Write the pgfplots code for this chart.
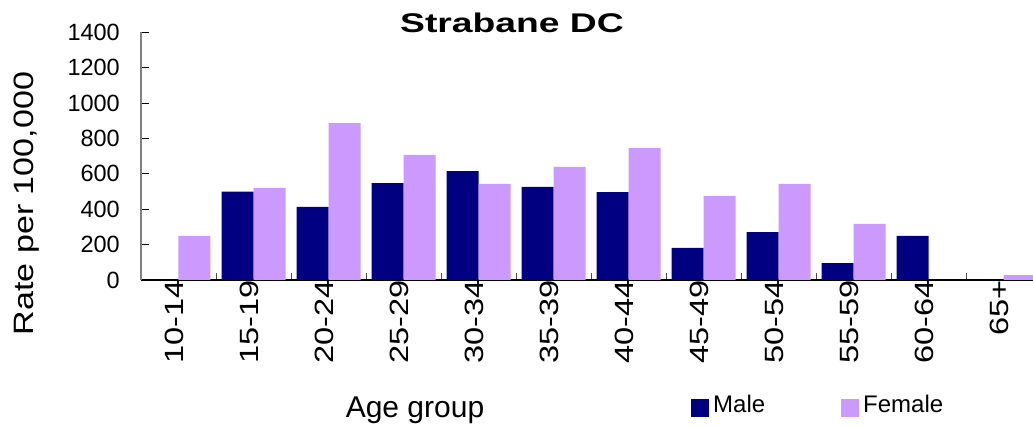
\documentclass[border=0pt]{standalone}
\usepackage{fontspec}
\setmainfont{Liberation Sans}
\usepackage{graphicx}
\usepackage{pgfplots}
\pgfplotsset{compat=1.18}
\definecolor{male}{RGB}{0,0,128}
\definecolor{female}{RGB}{204,153,255}
\newcommand{\xl}[1]{\scalebox{1.48}[1.2]{#1}}
\begin{document}
\begin{tikzpicture}
\useasboundingbox (-141pt,-147pt) rectangle (892pt,280pt);
\begin{axis}[
  at={(0pt,0pt)}, anchor=south west,
  scale only axis, width=892pt, height=247.7pt,
  xmin=-0.5, xmax=11.393, ymin=0, ymax=1400,
  ybar=0pt, bar width=32pt,
  axis x line*=bottom, axis y line*=left,
  x axis line style={black, line width=1.2pt, -},
  y axis line style={gray, line width=1.5pt, -},
  tick align=inside,
  xtick={0,...,11},
  xticklabels={\xl{10-14},\xl{15-19},\xl{20-24},\xl{25-29},\xl{30-34},\xl{35-39},\xl{40-44},\xl{45-49},\xl{50-54},\xl{55-59},\xl{60-64},\xl{65+}},
  major x tick style={draw=none},
  minor xtick={0.5,1.5,...,10.5},
  minor x tick style={black!70, line width=0.9pt},
  minor tick length=7pt,
  ytick={0,200,...,1400},
  major y tick style={black, line width=0.8pt},
  major tick length=8pt,
  /pgf/number format/assume math mode=true,
  /pgf/number format/1000 sep={},
  xticklabel style={rotate=90, anchor=east, inner sep=0pt, yshift=4pt, font=\fontsize{22}{26}\selectfont},
  yticklabel style={anchor=east, inner sep=0pt, xshift=-21pt, font=\fontsize{23.5}{27}\selectfont},
  title={\scalebox{1.38}[1]{\bfseries Strabane DC}},
  title style={at={(axis description cs:0.4159,0.973)}, anchor=base, inner sep=0pt, font=\fontsize{27}{32}\selectfont},
  xlabel={Age group},
  xlabel style={at={(axis description cs:0.3072,-0.5531)}, anchor=base, inner sep=0pt, font=\fontsize{30}{36}\selectfont},
  ylabel={\scalebox{1.216}[1]{Rate per 100,000}},
  ylabel style={at={(axis description cs:-0.1207,0.3088)}, anchor=base, inner sep=0pt, font=\fontsize{28}{34}\selectfont},
  legend columns=2,
  legend image code/.code={\fill[#1,draw=none] (0pt,-13.5pt) rectangle (18pt,4.5pt);},
  legend style={at={(axis description cs:0.6166,-0.5087)}, anchor=west, draw=none, fill=none, inner sep=0pt,
    font=\fontsize{24}{28}\selectfont,
    nodes={inner xsep=4pt, inner ysep=0pt, text depth=0pt},
    /tikz/every even column/.append style={column sep=72pt}},
]
\addplot[fill=male, draw=none] coordinates {
  (1,500) (2,413) (3,548) (4,616) (5,526) (6,497) (7,181) (8,271) (9,96) (10,249)
};
\addlegendentry{Male}
\addplot[fill=female, draw=none] coordinates {
  (0,249) (1,520) (2,887) (3,707) (4,543) (5,639) (6,746) (7,475) (8,543) (9,317) (11,28)
};
\addlegendentry{Female}
\end{axis}
\end{tikzpicture}
\end{document}
